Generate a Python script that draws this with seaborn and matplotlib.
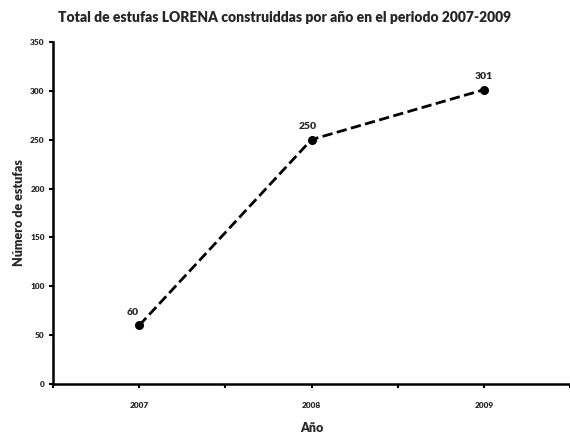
import pandas as pd
import seaborn as sns
import matplotlib.pyplot as plt
from matplotlib.ticker import MultipleLocator, FixedLocator

# data
years = ["2007", "2008", "2009"]
estufas = [60, 250, 301]

df = pd.DataFrame({"year": years, "count": estufas})

sns.set_style("white")
plt.rcParams["font.family"] = ["Lato", "DejaVu Sans"]
plt.rcParams["font.weight"] = "heavy"

fig = plt.figure(figsize=(5.7, 4.4), dpi=100)
ax = fig.add_axes([0.093, 0.127, 0.907, 0.778])

sns.pointplot(data=df, x="year", y="count", color="black", linestyles="--",
              markers="o", markersize=5, linewidth=2.0, ax=ax)

# data labels
offsets = [(-5, 6), (-3, 6), (0, 6)]
for i, (v, off) in enumerate(zip(estufas, offsets)):
    ax.annotate(str(v), (i, v), xytext=off, textcoords="offset points",
                ha="center", va="bottom", fontsize=7.5, fontweight="heavy")

ax.set_xlim(-0.5, 2.5)
ax.set_ylim(0, 350)
ax.yaxis.set_major_locator(MultipleLocator(50))
ax.xaxis.set_minor_locator(FixedLocator([-0.5, 0.5, 1.5, 2.5]))

for side in ["top", "right"]:
    ax.spines[side].set_visible(False)
for side in ["left", "bottom"]:
    ax.spines[side].set_linewidth(1.8)
    ax.spines[side].set_color("black")

ax.tick_params(axis="both", which="both", direction="out", length=3, width=1.5,
               labelsize=6, color="black", bottom=True, left=True)
ax.tick_params(axis="x", pad=10)
ax.tick_params(axis="y", pad=3)
for lab in ax.get_xticklabels() + ax.get_yticklabels():
    lab.set_fontweight("heavy")

ax.set_xlabel("Año", fontsize=9, fontweight="heavy", labelpad=9)
ax.set_ylabel("Número de estufas", fontsize=9, fontweight="heavy", labelpad=4)
fig.suptitle("Total de estufas LORENA construiddas por año en el periodo 2007-2009",
             x=0.5, y=0.975, fontsize=10, fontweight="heavy")

fig.savefig("out.png", dpi=100, facecolor="white")
